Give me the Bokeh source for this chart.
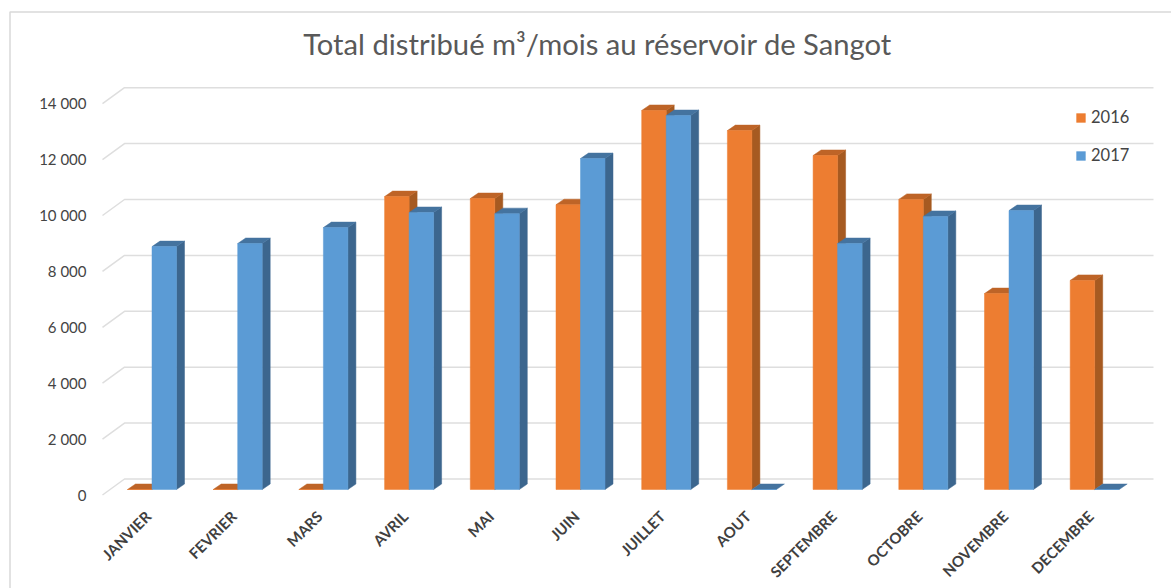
from bokeh.plotting import figure
from bokeh.models import Range1d, LinearAxis, FixedTicker, Legend, LegendItem
from bokeh.core.properties import value
from bokeh.embed import file_html
from bokeh.resources import INLINE
import math

months = ["JANVIER", "FEVRIER", "MARS", "AVRIL", "MAI", "JUIN", "JUILLET", "AOUT",
          "SEPTEMBRE", "OCTOBRE", "NOVEMBRE", "DECEMBRE"]
v2016 = [0, 0, 0, 10480, 10410, 10190, 13560, 12840, 11950, 10380, 7010, 7480]
v2017 = [8690, 8800, 9370, 9910, 9870, 11840, 13380, 0, 8800, 9770, 9980, 0]
y_ticks = [0, 2000, 4000, 6000, 8000, 10000, 12000, 14000]
y_labels = ["0", "2 000", "4 000", "6 000", "8 000", "10 000", "12 000", "14 000"]
title_text = "Total distribué m³/mois au réservoir de Sangot"

W, H = 1171, 588
OFF = 0
X0, PX_CAT = 151.5, 85.7
Y0, PX_VAL = 489.0, 0.02795
BAR = 24.5 / PX_CAT


def dx(px):
    return px / PX_CAT


def dy(px):
    return px / PX_VAL


def xd(px):
    return (px - X0) / PX_CAT


def yd(py):
    return (Y0 - py) / PX_VAL


p = figure(width=W, height=H, output_backend="svg", toolbar_location=None,
           x_range=Range1d(xd(OFF), xd(OFF + W)), y_range=Range1d(yd(OFF + H), yd(OFF)),
           x_axis_type=None, y_axis_type=None, min_border=0, outline_line_color=None)
p.grid.visible = False
p.extra_y_ranges = {"axis": Range1d(yd(OFF + H - 5), yd(OFF - 5))}
p.extra_x_ranges = {"labels": Range1d(xd(OFF + 4), xd(OFF + W + 4))}

# chart frame
p.multi_line(xs=[[xd(9.5), xd(9.5), xd(1171)]], ys=[[yd(588), yd(11.5), yd(11.5)]],
             line_color="#D9D9D9", line_width=1.5)

# back wall gridlines and stubs
wall_dy = dy(10.5)
stub_dy = dy(5.5)
gx, gy = [], []
for t in y_ticks:
    gx.append([xd(102), xd(124), xd(1153)])
    gy.append([t - stub_dy, t + wall_dy, t + wall_dy])
p.multi_line(xs=gx, ys=gy, line_color="#DEDEDE", line_width=1.5)

D_X, D_Y = dx(8), dy(5.5)


def draw(vals, left_off, face, side, top):
    lefts = [i + left_off for i in range(len(vals))]
    rights = [l + BAR for l in lefts]
    side_x = [[r, r + D_X, r + D_X, r] for r, v in zip(rights, vals) if v > 0]
    side_y = [[0, D_Y, v + D_Y, v] for v in vals if v > 0]
    top_x = [[l, l + D_X, r + D_X, r] for l, r in zip(lefts, rights)]
    top_y = [[v, v + D_Y, v + D_Y, v] for v in vals]
    p.patches(side_x, side_y, fill_color=side, line_color=side, line_width=0.5)
    p.patches(top_x, top_y, fill_color=top, line_color=top, line_width=0.5)
    return p.quad(left=lefts, right=rights, bottom=[0] * len(vals), top=vals,
                  fill_color=face, line_color=face, line_width=0.5)


r16 = draw(v2016, -BAR, "#ED7D31", "#A65A21", "#BE6427")
r17 = draw(v2017, 0, "#5B9BD5", "#3C668E", "#44739F")

# axes
yax = LinearAxis(y_range_name="axis", fixed_location=xd(99),
                 ticker=FixedTicker(ticks=y_ticks),
                 major_label_overrides=dict(zip(y_ticks, y_labels)),
                 major_tick_line_color=None, minor_tick_line_color=None, axis_line_color=None,
                 major_label_text_font="Lato", major_label_text_font_size="15px",
                 major_label_text_color="#444444", major_label_standoff=7)
p.add_layout(yax, "left")

xax = LinearAxis(x_range_name="labels", fixed_location=yd(503),
                 ticker=FixedTicker(ticks=list(range(12))),
                 major_label_overrides=dict(zip(range(12), months)),
                 major_label_orientation=math.pi / 4,
                 major_tick_line_color=None, minor_tick_line_color=None, axis_line_color=None,
                 major_label_text_font="Lato", major_label_text_font_size="15px",
                 major_label_text_font_style="bold",
                 major_label_text_color="#404040", major_label_standoff=4)
p.add_layout(xax, "below")

# title
p.text(x=[xd(597)], y=[yd(43)], text=[title_text], text_font=value("Lato"),
       text_font_size="29.2px", text_color="#595959", text_align="center", text_baseline="middle")

legend = Legend(items=[LegendItem(label="2016", renderers=[r16]),
                       LegendItem(label="2017", renderers=[r17])],
                location=(1075, 423), orientation="vertical",
                background_fill_alpha=0, border_line_color=None,
                glyph_width=11, glyph_height=11, spacing=18, padding=0, margin=0,
                label_standoff=5, label_text_font="Lato", label_text_font_size="16.5px",
                label_text_color="#444444")
p.add_layout(legend, "center")

open("out.html", "w").write(file_html(p, INLINE))
